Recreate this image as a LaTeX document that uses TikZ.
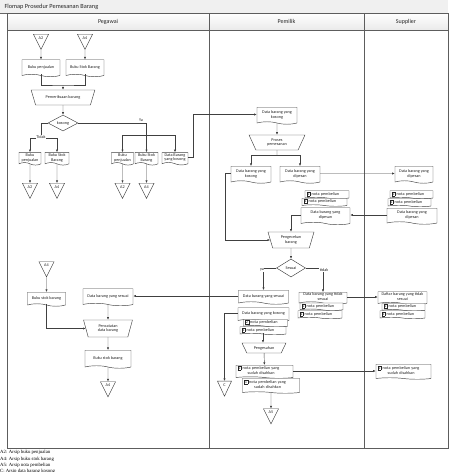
\documentclass[tikz,border=0pt]{standalone}
\usepackage{fontspec}
\setmainfont{Carlito}
\newfontfamily\catatanfont{Liberation Serif}
\usetikzlibrary{
  arrows.meta,
  positioning,
  shapes.geometric,
  shapes.symbols,
}
\definecolor{garis}{RGB}{64, 64, 64}
\definecolor{kepala}{RGB}{234, 234, 234}
\newcommand{\nomor}[1]{{\setlength{\fboxsep}{0.6pt}\setlength{\fboxrule}{0.25pt}\fbox{#1}}}
\newcommand{\duabaris}[2]{\begin{tabular}[t]{@{}c@{}}#1\\#2\end{tabular}}
\tikzstyle{arrow} = [
  -{Latex[length=2.6pt, width=2.2pt]},
  line width=0.45pt,
  garis,
]
\tikzstyle{line} = [line width=0.45pt, garis]
\tikzstyle{lane} = [draw=garis!85, line width=1pt]

\begin{document}
\begin{tikzpicture}[x=1pt, y=-1pt,
    every node/.style={font=\fontsize{4.2}{4.9}\selectfont, text=black!85},
    doc/.style={draw=garis, fill=white, line width=0.45pt, tape,
                tape bend top=none, tape bend bottom=out and in,
                tape bend height=2.5pt, inner sep=0.8pt, align=center},
    nota/.style={doc, align=left, inner xsep=1.5pt, tape bend height=1.5pt},
    manual/.style={draw=garis, fill=white, line width=0.45pt, trapezium,
                   shape border rotate=180, trapezium stretches=true,
                   inner sep=0.5pt, align=center},
    keputusan/.style={draw=garis, fill=white, line width=0.45pt, diamond,
                      inner sep=0pt},
    offpage/.style={draw=garis, fill=white, line width=0.45pt,
                    isosceles triangle, shape border rotate=270,
                    isosceles triangle stretches, minimum width=15,
                    minimum height=15, inner sep=0pt},
  ]
  \useasboundingbox (0,0) rectangle (449,472);

  % judul dan jalur
  \fill[kepala!70] (0,0) rectangle (448,13);
  \node[anchor=west, font=\fontsize{6.3}{7}\selectfont] (judul) at (1,6.5)
       {Flomap Prosedur Pemesanan Barang};
  \draw[garis!80, line width=0.6pt] (0,13) -- (448,13);
  \shade[top color=white, bottom color=kepala] (7,13) rectangle (448,30);
  \draw[lane] (7,13) rectangle (448,448);
  \draw[lane] (7,30) -- (448,30);
  \draw[lane] (209,13) -- (209,448);
  \draw[lane] (364,13) -- (364,448);
  \node[font=\fontsize{6}{7}\selectfont] (pegawai) at (108,21.5) {Pegawai};
  \node[font=\fontsize{6}{7}\selectfont] (pemilik) at (286.5,21.5) {Pemilik};
  \node[font=\fontsize{6}{7}\selectfont] (supplier) at (406,21.5) {Supplier};

  % Pegawai
  \node[offpage] (a2a) at (41,38) {A2};
  \node[offpage] (a4a) at (85,38) {A4};
  \node[doc, minimum width=38, minimum height=17] (bjual1) at (41,67) {Buku penjualan};
  \node[doc, minimum width=38, minimum height=17] (bstok1) at (85,67) {Buku Stok Barang};
  \node[manual, minimum width=64, minimum height=15, trapezium angle=58] (periksa)
       at (63,97.5) {Pemeriksaan barang};
  \node[keputusan, minimum width=30, minimum height=16] (kosong) at (63,123) {kosong};
  \node[doc, minimum width=22, minimum height=12] (bjual2) at (30,157.5) {Buku\\penjualan};
  \node[doc, minimum width=24, minimum height=12] (bstok2) at (57,157.5) {Buku Stok\\Barang};
  \node[offpage] (a2b) at (30,187) {A2};
  \node[offpage] (a4b) at (57,187) {A4};
  \node[doc, minimum width=22, minimum height=12] (bjual3) at (122.5,157.5) {Buku\\penjualan};
  \node[doc, minimum width=23, minimum height=12] (bstok3) at (146.5,157.5) {Buku Stok\\Barang};
  \node[doc, minimum width=26, minimum height=12] (dkosong1) at (175,157.5) {Data Barang\\yang kosong};
  \node[offpage] (a2c) at (122.5,187) {A2};
  \node[offpage] (a4c) at (146.5,187) {A4};

  \coordinate (gabung) at (63,85);
  \coordinate (cabangT) at (41,138);
  \coordinate (cabangY) at (146.5,135);
  \draw[arrow] (a2a) -- (bjual1);
  \draw[arrow] (a4a) -- (bstok1);
  \draw[line] (bjual1.south) |- (gabung) -| (bstok1.south);
  \draw[arrow] (gabung) -- (periksa);
  \draw[arrow] (periksa) -- (kosong);
  \draw[line] (kosong.west) -| (cabangT);
  \draw[arrow] (cabangT) -| (bjual2.north);
  \draw[arrow] (cabangT) -| (bstok2.north);
  \node[fill=white, inner sep=0.3pt] (tidak1) at (41,137) {Tidak};
  \draw[arrow] (bjual2) -- (a2b);
  \draw[arrow] (bstok2) -- (a4b);
  \draw[arrow] (kosong.east) -| (bstok3.north);
  \node (ya1) at (141,120) {Ya};
  \draw[arrow] (cabangY) -| (bjual3.north);
  \draw[arrow] (cabangY) -| (dkosong1.north);
  \draw[arrow] (bjual3) -- (a2c);
  \draw[arrow] (bstok3) -- (a4c);

  % Pemilik
  \node[doc, minimum width=40, minimum height=17] (dkosong2) at (277,114.5) {Data barang yang\\kosong};
  \node[manual, minimum width=56, minimum height=15, trapezium angle=70] (pesan)
       at (277,142.5) {Proses\\pemesanan};
  \node[doc, minimum width=40, minimum height=17] (dkosong3) at (251,173.5) {Data barang yang\\kosong};
  \node[doc, minimum width=40, minimum height=17] (dpesan1) at (300,173.5) {Data barang yang\\dipesan};
  \draw[arrow] (dkosong1.east) -- ++(5,0) |- (dkosong2.west);
  \draw[arrow] (dkosong2) -- (pesan);
  \coordinate (cabangP) at (277,155);
  \draw[line] (pesan) -- (cabangP);
  \draw[arrow] (cabangP) -| (dkosong3.north);
  \draw[arrow] (cabangP) -| (dpesan1.north);

  % Supplier
  \node[doc, minimum width=38, minimum height=17] (dpesan2) at (414,173.5) {Data barang yang\\dipesan};
  \draw[arrow] (dpesan1) -- (dpesan2);
  \node[nota, text width=40, minimum height=8] (snota2) at (411.5,194) {\nomor{2} nota pembelian};
  \node[nota, text width=40, minimum height=8] (snota1) at (409.5,202) {\nomor{1} nota pembelian};
  \node[doc, minimum width=50, minimum height=16] (sdpesan) at (412,215) {Data barang yang\\dipesan};

  \node[nota, text width=41, minimum height=8] (pnota2) at (327,194) {\nomor{2} nota pembelian};
  \node[nota, text width=42, minimum height=8] (pnota1) at (324.5,201.5) {\nomor{1} nota pembelian};
  \node[doc, minimum width=49, minimum height=17] (pdpesan) at (325.5,215) {Data barang yang\\dipesan};
  \draw[arrow] (sdpesan.west) -- (pdpesan.east);

  \node[manual, minimum width=46, minimum height=16, trapezium angle=74] (cek)
       at (291,240) {Pengecekan\\barang};
  \draw[arrow] (pdpesan.west) -| (cek);
  \draw[arrow] (dkosong3.west) -- ++(-6,0) |- (cek);
  \node[keputusan, minimum width=29, minimum height=18] (sesuai) at (291,268) {Sesuai};
  \draw[arrow] (cek) -- (sesuai);

  \node[doc, minimum width=50, minimum height=14] (dsesuai1) at (263.5,296) {Data barang yang sesuai};
  \node[doc, minimum width=51, minimum height=14] (dkosong4) at (263.5,313.5) {Data barang yang kosong};
  \node[nota, text width=41, minimum height=7] (pnota2b) at (265.5,322.5) {\nomor{2} nota pembelian};
  \node[nota, text width=43, minimum height=8] (pnota1b) at (263,330) {\nomor{1} nota pembelian};
  \draw[arrow] (sesuai.west) -| (dsesuai1.north);
  \node[fill=white, inner sep=0.3pt] (ya2) at (262,270) {ya};

  \node[doc, minimum width=48, minimum height=12] (dtidak) at (323,297) {Data barang yang tidak\\sesuai};
  \node[nota, text width=40, minimum height=6.5] (pnota2c) at (321.5,306) {\nomor{2} nota pembelian};
  \node[nota, text width=41, minimum height=8] (pnota1c) at (320,314) {\nomor{1} nota pembelian};
  \draw[arrow] (sesuai.east) -| (dtidak.north);
  \node[fill=white, inner sep=0.3pt] (tidak2) at (324,270) {tidak};

  \node[doc, minimum width=49, minimum height=13] (daftar) at (402.5,297) {Daftar barang yang tidak\\sesuai};
  \node[nota, text width=40, minimum height=6.5] (snota2c) at (403.5,306.5) {\nomor{2} nota pembelian};
  \node[nota, text width=42, minimum height=8] (snota1c) at (402.5,314) {\nomor{1} nota pembelian};
  \draw[arrow] (dtidak.east) -- (daftar.west);

  \node[manual, minimum width=44, minimum height=10, trapezium angle=57] (sahkan)
       at (264,348) {Pengesahan};
  \draw[arrow] (pnota1b.south) -- (pnota1b.south |- sahkan.north);
  \node[nota, text width=54, minimum height=11] (sah2) at (264.5,371)
       {\nomor{2} \duabaris{nota pembelian yang}{sudah disahkan}};
  \node[nota, text width=54, minimum height=15] (sah1) at (271,385)
       {\nomor{1} \duabaris{nota pembelian yang}{sudah disahkan}};
  \node[offpage] (a5) at (271,412.5) {A5};
  \node[offpage, minimum width=14, minimum height=15] (arsipC) at (224.5,385.5) {C};
  \draw[arrow] (sahkan) -- (sah2);
  \draw[arrow] (sah1) -- (a5);
  \draw[arrow] (dkosong4.west) -| (arsipC);

  \node[nota, text width=52, minimum height=15] (supsah) at (403.5,371)
       {\nomor{2} \duabaris{nota pembelian yang}{sudah disahkan}};
  \draw[arrow] (sah2.east) -- (supsah.west);

  % Pegawai bawah
  \node[offpage] (a4d) at (46.5,265.5) {A4};
  \node[doc, minimum width=38, minimum height=14] (bstok4) at (46.5,298) {Buku stok barang};
  \node[doc, minimum width=50, minimum height=17] (dsesuai2) at (108,296) {Data barang yang sesuai};
  \node[manual, minimum width=49, minimum height=17, trapezium angle=75] (catat)
       at (108,328.5) {Pencatatan\\data barang};
  \node[doc, minimum width=46, minimum height=18] (bstok5) at (108,358) {Buku stok barang};
  \node[offpage] (a4e) at (108,385.5) {A4};
  \draw[arrow] (dsesuai1.west) -- (dsesuai1.west -| dsesuai2.east);
  \draw[arrow] (a4d) -- (bstok4);
  \draw[arrow] (bstok4.south) |- (catat);
  \draw[arrow] (dsesuai2) -- (catat);
  \draw[arrow] (catat) -- (bstok5);
  \draw[arrow] (bstok5) -- (a4e);

  % keterangan
  \begin{scope}[every node/.style={anchor=west, inner sep=0pt,
                font=\catatanfont\fontsize{4.8}{5.5}\selectfont}]
    \node (ket1) at (0,452.5) {A2: Arsip buku penjualan};
    \node (ket2) at (0,459) {A4: Arsip buku stok barang};
    \node (ket3) at (0,465.5) {A5: Arsip nota pembelian};
    \node (ket4) at (0,471) {C: Arsip data barang kosong};
  \end{scope}
\end{tikzpicture}
\end{document}
